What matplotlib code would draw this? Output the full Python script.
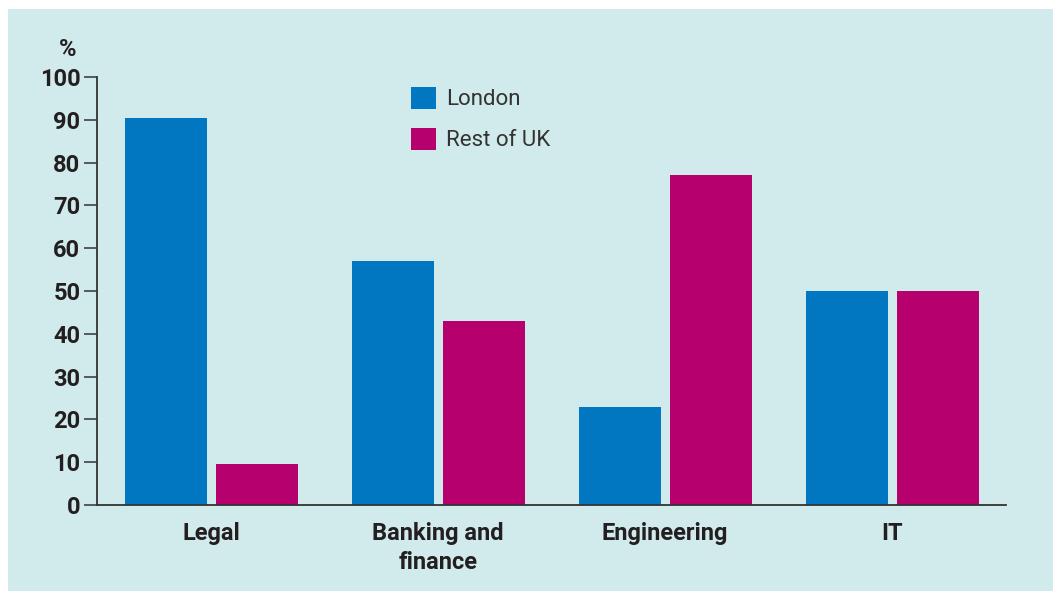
import numpy as np
import matplotlib.pyplot as plt
import matplotlib.patches as mpatches

categories = ["Legal", "Banking and\nfinance", "Engineering", "IT"]
london = [90.5, 57, 23, 50]
rest_uk = [9.5, 43, 77, 50]
yticks = list(range(0, 101, 10))

BG = "#d1eaeb"
C_LON = "#0077c0"
C_REST = "#b5006e"
INK = "#231f20"

plt.rcParams["font.family"] = ["Roboto", "DejaVu Sans"]

W, H = 1053, 591
fig = plt.figure(figsize=(W / 100, H / 100), dpi=100, facecolor="white")
fig.patches.append(mpatches.Rectangle((8 / W, 0), 1 - 8 / W, 1 - 9 / H,
                                      transform=fig.transFigure, facecolor=BG,
                                      edgecolor="none", zorder=-10))

ax = fig.add_axes([97 / W, (H - 505) / H, (1006 - 97) / W, (505 - 77) / H])
ax.set_facecolor("none")

x = np.arange(len(categories))
bw = 82 / 227
gap = 9 / 227
off = (bw + gap) / 2
b1 = ax.bar(x + 0.004 - off, london, width=bw, color=C_LON, zorder=2, label="London")
b2 = ax.bar(x + 0.004 + off, rest_uk, width=bw, color=C_REST, zorder=2, label="Rest of UK")

ax.set_xlim(-0.502, 3.502)
ax.set_ylim(0, 100)
ax.set_yticks(yticks)
ax.set_yticklabels([str(t) for t in yticks], fontsize=17, fontweight="bold", color=INK)
ax.set_xticks(x)
ax.set_xticklabels(categories, fontsize=17, fontweight="bold", color=INK, linespacing=1.3)
ax.tick_params(axis="y", length=9.4, width=1.1, color="#333333", pad=2.5)
ax.tick_params(axis="x", length=0, pad=12.5)
for s in ["top", "right"]:
    ax.spines[s].set_visible(False)
for s in ["left", "bottom"]:
    ax.spines[s].set_color("#333333")
    ax.spines[s].set_linewidth(1.3)

fig.text(68 / W, 1 - 49 / H, "%", fontsize=17, fontweight="bold", color=INK,
         ha="center", va="center")

leg = ax.legend(handles=[b1, b2], loc="upper left",
                bbox_to_anchor=(411 / W, 1 - 87 / H), bbox_transform=fig.transFigure,
                frameon=False, fontsize=16, handlelength=1.13, handleheight=1.13,
                handletextpad=0.45, labelspacing=0.78, borderpad=0, borderaxespad=0)
for t in leg.get_texts():
    t.set_color("#333333")

fig.savefig("out.png", dpi=100, facecolor="white")
